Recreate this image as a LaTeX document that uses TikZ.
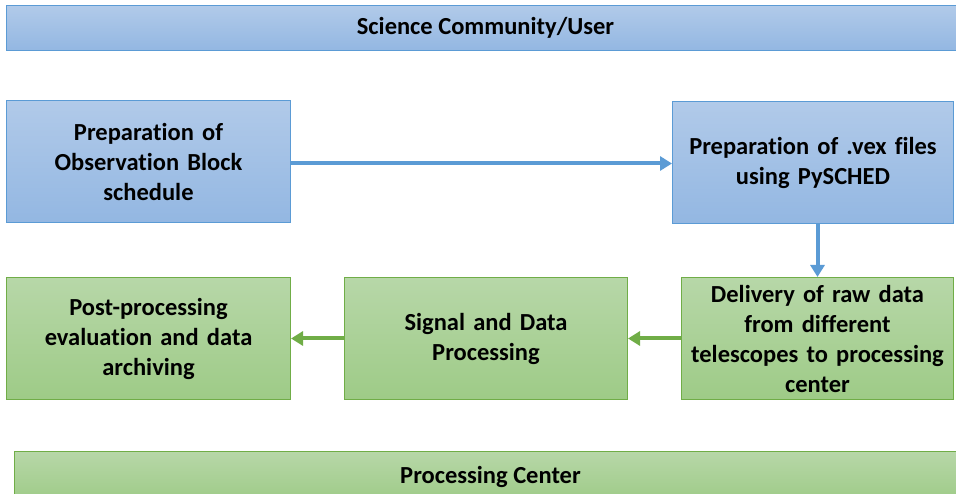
\documentclass[tikz,border=0pt]{standalone}
\usepackage{fontspec}
\setmainfont{Carlito}[Ligatures={NoCommon}]
\usetikzlibrary{arrows.meta,positioning}
\definecolor{bluebd}{HTML}{5B9BD5}
\definecolor{bluetop}{HTML}{B1CAE9}
\definecolor{bluebot}{HTML}{93B7E2}
\definecolor{greenbd}{HTML}{70AD47}
\definecolor{greentop}{HTML}{B7D7A8}
\definecolor{greenbot}{HTML}{9ECB87}
\tikzset{
  x=1pt,y=1pt,
  box/.style={rectangle, inner sep=0pt, anchor=north west, align=center,
    font=\fontsize{24.5}{30}\selectfont\bfseries, line width=1pt},
  bluebox/.style={box, draw=bluebd, top color=bluetop, bottom color=bluebot},
  greenbox/.style={box, draw=greenbd, top color=greentop, bottom color=greenbot},
  bluearrow/.style={draw=bluebd, line width=4pt, -{Triangle[length=12pt,width=14pt]}},
  greenarrow/.style={draw=greenbd, line width=4pt, -{Triangle[length=12pt,width=14pt]}},
}
\begin{document}
\begin{tikzpicture}
\useasboundingbox (0,0) rectangle (956,-494);
\node[bluebox, minimum width=958pt, minimum height=45pt] (top) at (6,-5) {\raisebox{-1pt}{Science Community/User}};
\node[bluebox, minimum width=284pt, minimum height=122pt, text width=270pt] (b1) at (6,-100)
  {Preparation of\\Observation Block\\schedule};
\node[bluebox, minimum width=281pt, minimum height=122pt, text width=270pt] (b2) at (672,-101)
  {Preparation of .vex files\\using PySCHED};
\node[greenbox, minimum width=284pt, minimum height=122pt, text width=270pt] (g1) at (6,-277)
  {Post-processing\\evaluation and data\\archiving};
\node[greenbox, minimum width=283pt, minimum height=122pt, text width=270pt] (g2) at (344,-277)
  {Signal and Data\\Processing};
\node[greenbox, minimum width=272pt, minimum height=122pt, text width=268pt] (g3) at (681,-277)
  {Delivery of raw data\\from different\\telescopes to processing\\center};
\node[greenbox, minimum width=952pt, minimum height=50pt, text depth=0pt] (bot) at (14,-451) {\raisebox{4pt}{Processing Center}};
\draw[bluearrow] ([yshift=-2pt]b1.east) -- ([yshift=-2pt]b1.east -| b2.west);
\draw[bluearrow] ([xshift=4.5pt]b2.south) -- ([xshift=4.5pt]b2.south |- g3.north);
\draw[greenarrow] (g3.west) -- (g2.east);
\draw[greenarrow] (g2.west) -- (g1.east);
\end{tikzpicture}
\end{document}
